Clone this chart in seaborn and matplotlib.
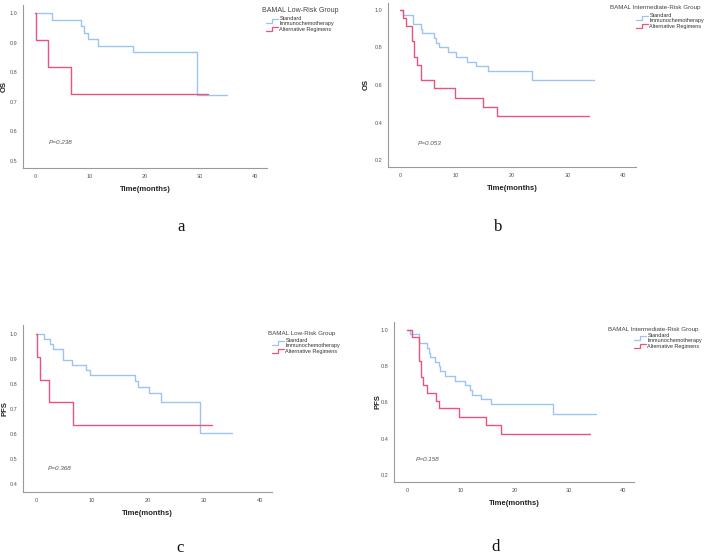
import matplotlib
matplotlib.use("Agg")
import matplotlib.pyplot as plt
import numpy as np
import pandas as pd
import seaborn as sns
from matplotlib.legend_handler import HandlerBase
from matplotlib.lines import Line2D

# ---- data (Kaplan-Meier steps) ----
groups = ["Standard\nImmunochemotherapy", "Alternative Regimens"]

# a: OS, low-risk
a_std_t = [0, 3.0, 8.3, 8.9, 9.7, 11.5, 17.8, 29.4, 35.0]
a_std_s = [1.0, 0.978, 0.956, 0.933, 0.911, 0.889, 0.867, 0.722, 0.722]
a_alt_t = [0, 0.2, 2.4, 6.5, 31.4]
a_alt_s = [1.0, 0.909, 0.818, 0.727, 0.727]

# b: OS, intermediate-risk
b_std_t = [0, 0.5, 2.4, 3.7, 4.0, 6.1, 6.4, 7.0, 8.6, 10.1, 12.0, 13.7, 15.7, 23.7, 34.8]
b_std_s = [1.0, 0.975, 0.925, 0.90, 0.875, 0.85, 0.825, 0.80, 0.775, 0.75, 0.725, 0.70,
           0.675, 0.625, 0.625]
b_alt_t = [0, 0.5, 1.1, 2.1, 2.5, 3.0, 3.7, 6.1, 9.8, 14.8, 17.4, 33.8]
b_alt_s = [1.0, 0.958, 0.917, 0.833, 0.75, 0.708, 0.625, 0.583, 0.533, 0.484, 0.436, 0.436]

# c: PFS, low-risk
c_std_t = [0, 1.4, 2.6, 3.0, 4.8, 6.5, 8.9, 9.7, 17.6, 18.2, 20.2, 22.3, 29.3, 34.9]
c_std_s = [1.0, 0.98, 0.959, 0.939, 0.898, 0.878, 0.857, 0.837, 0.813, 0.789, 0.763,
           0.727, 0.606, 0.606]
c_alt_t = [0, 0.2, 0.8, 2.4, 6.6, 31.4]
c_alt_s = [1.0, 0.909, 0.818, 0.727, 0.636, 0.636]

# d: PFS, intermediate-risk
d_std_t = [0, 0.5, 2.3, 3.7, 4.0, 4.3, 5.2, 5.9, 6.2, 7.1, 8.8, 10.8, 11.7, 12.1, 13.7,
           15.6, 27.0, 34.9]
d_std_s = [1.0, 0.978, 0.93, 0.902, 0.875, 0.85, 0.825, 0.80, 0.773, 0.746, 0.72, 0.694,
           0.668, 0.642, 0.617, 0.591, 0.539, 0.539]
d_alt_t = [0, 1.0, 2.2, 2.3, 2.6, 2.9, 3.7, 5.4, 6.0, 9.6, 14.6, 17.4, 33.8]
d_alt_s = [1.0, 0.959, 0.88, 0.83, 0.742, 0.696, 0.653, 0.61, 0.567, 0.52, 0.473, 0.425,
           0.425]

x_ticks = [0, 10, 20, 30, 40]
p_values = ["P=0.238", "P=0.053", "P=0.368", "P=0.158"]
legend_titles = ["BAMAL Low-Risk Group", "BAMAL Intermediate-Risk Group",
                 "BAMAL Low-Risk Group", "BAMAL Intermediate-Risk Group"]
y_labels = ["OS", "OS", "PFS", "PFS"]
captions = ["a", "b", "c", "d"]

BLUE = "#9ec2f2"
RED = "#e8547c"
GREY = "#9a9a9a"

sns.set_style("white")
plt.rcParams["font.family"] = ["Liberation Sans", "DejaVu Sans"]

W, H = 709, 555
fig = plt.figure(figsize=(W / 100, H / 100), dpi=100)


class StepHandler(HandlerBase):
    """Draws the small SPSS-style step symbol in the legend."""

    def create_artists(self, legend, orig_handle, xdescent, ydescent, width, height,
                       fontsize, trans):
        x0, w = -xdescent, width
        y_lo, y_hi = -ydescent + height * 0.1, -ydescent + height * 0.9
        xs = [x0, x0 + w * 0.45, x0 + w * 0.45, x0 + w]
        ys = [y_lo, y_lo, y_hi, y_hi]
        line = Line2D(xs, ys, color=orig_handle.get_color(), lw=0.9)
        line.set_transform(trans)
        return [line]


def to_frame(std_t, std_s, alt_t, alt_s):
    return pd.concat([
        pd.DataFrame({"time": std_t, "surv": std_s, "group": groups[0]}),
        pd.DataFrame({"time": alt_t, "surv": alt_s, "group": groups[1]}),
    ], ignore_index=True)


# panel specs: pixel box (left, top, right, bottom), limits, y ticks, annotations
panels = [
    dict(df=to_frame(a_std_t, a_std_s, a_alt_t, a_alt_s), box=(23, 5, 267, 168),
         xlim=(-2.2, 42.2), ylim=(0.475, 1.028), yticks=[0.5, 0.6, 0.7, 0.8, 0.9, 1.0],
         ptxt=(2.5, 0.56), title=(262, 11, 5.0), leg=(266, 16), ylab=-0.061,
         xlab=-0.11, cap=(181, 227)),
    dict(df=to_frame(b_std_t, b_std_s, b_alt_t, b_alt_s), box=(388, 3, 636, 167),
         xlim=(-2.15, 42.3), ylim=(0.163, 1.037), yticks=[0.2, 0.4, 0.6, 0.8, 1.0],
         ptxt=(3.2, 0.29), title=(610, 7, 4.5), leg=(636, 13), ylab=-0.073,
         xlab=-0.11, cap=(498, 227)),
    dict(df=to_frame(c_std_t, c_std_s, c_alt_t, c_alt_s), box=(23, 325, 272, 492),
         xlim=(-2.3, 42.1), ylim=(0.368, 1.036), yticks=[0.4, 0.5, 0.6, 0.7, 0.8, 0.9, 1.0],
         ptxt=(2.1, 0.46), title=(268, 333, 4.5), leg=(272, 338), ylab=-0.06,
         xlab=-0.108, cap=(180, 548)),
    dict(df=to_frame(d_std_t, d_std_s, d_alt_t, d_alt_s), box=(394, 322, 634, 482),
         xlim=(-2.4, 42.0), ylim=(0.161, 1.044), yticks=[0.2, 0.4, 0.6, 0.8, 1.0],
         ptxt=(1.7, 0.287), title=(608, 329, 4.5), leg=(634, 333), ylab=-0.054,
         xlab=-0.1125, cap=(496, 547)),
]

for i, p in enumerate(panels):
    l, t, r, b = p["box"]
    ax = fig.add_axes([l / W, 1 - b / H, (r - l) / W, (b - t) / H])
    sns.lineplot(data=p["df"], x="time", y="surv", hue="group", palette=[BLUE, RED],
                 drawstyle="steps-post", estimator=None, lw=1.0, legend=False, ax=ax)
    ax.set_xlim(*p["xlim"])
    ax.set_ylim(*p["ylim"])
    ax.set_xticks(x_ticks)
    ax.set_yticks(p["yticks"])
    ax.set_yticklabels(["%.1f" % v for v in p["yticks"]])
    sns.despine(ax=ax)
    for side in ("left", "bottom"):
        ax.spines[side].set_color(GREY)
        ax.spines[side].set_linewidth(0.8)
    ax.tick_params(axis="both", direction="out", length=2, width=0.5, color=GREY,
                   labelsize=4, labelcolor="#555555", pad=2)
    ax.set_xlabel("Time(months)", fontsize=5.5, fontweight="bold", color="#222222")
    ax.set_ylabel(y_labels[i], fontsize=5.5, fontweight="bold", color="#222222")
    ax.xaxis.set_label_coords(0.5, p["xlab"])
    ax.yaxis.set_label_coords(p["ylab"], 0.5)

    ax.text(p["ptxt"][0], p["ptxt"][1], p_values[i], fontsize=4.6, style="italic",
            color="#555555", ha="left", va="center")

    # legend title drawn separately so the entries sit indented beneath it
    tx, ty, tsize = p["title"]
    fig.text(tx / W, 1 - ty / H, legend_titles[i], fontsize=tsize, color="#444444",
             ha="left", va="center")
    handles = [Line2D([], [], color=BLUE), Line2D([], [], color=RED)]
    leg = ax.legend(handles, groups, loc="upper left",
                    bbox_to_anchor=(p["leg"][0] / W, 1 - p["leg"][1] / H),
                    bbox_transform=fig.transFigure, frameon=False, fontsize=4,
                    handler_map={Line2D: StepHandler()},
                    handlelength=2.2, handleheight=0.9, handletextpad=0.2,
                    labelspacing=0.15, borderpad=0, borderaxespad=0)
    for txt in leg.get_texts():
        txt.set_color("#333333")
        txt.set_linespacing(0.95)

    fig.text(p["cap"][0] / W, 1 - p["cap"][1] / H, captions[i], fontsize=12,
             family="Liberation Serif", ha="center", va="center", color="#111111")

fig.savefig("out.png", dpi=100)
